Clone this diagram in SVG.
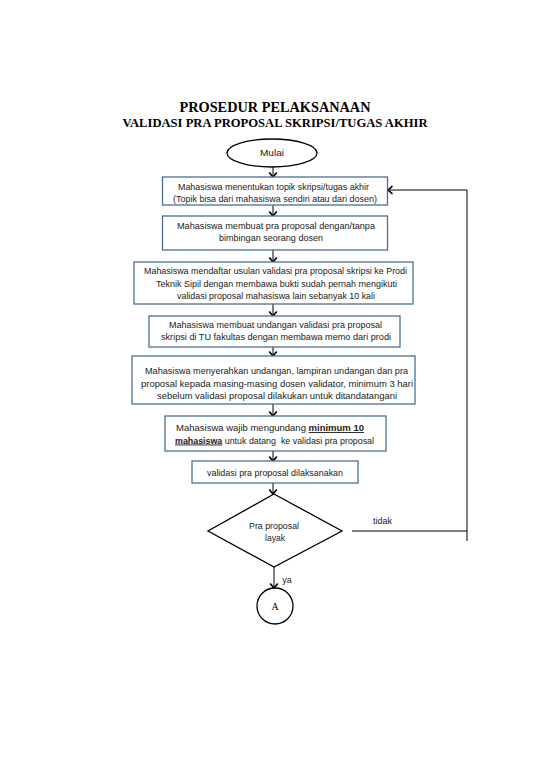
<svg xmlns="http://www.w3.org/2000/svg" width="550" height="777" viewBox="0 0 550 777">
<style>
  .title { font-family: "Liberation Serif", "Times New Roman", serif; font-weight: bold; fill: #000; }
  .box { fill: #ffffff; stroke: #4a6f96; stroke-width: 1.3; }
  .shape { fill: #ffffff; stroke: #000; stroke-width: 1.3; }
  .t { font-family: "Liberation Sans", Arial, sans-serif; font-size: 9px; fill: #1a1a1a; text-anchor: middle; }
  .conn { fill: none; stroke: #000; stroke-width: 1; }
  .a { font-family: "Liberation Serif", "Times New Roman", serif; font-size: 10px; fill: #000; text-anchor: middle; }
</style>
<defs>
  <marker id="arr" markerUnits="userSpaceOnUse" markerWidth="10" markerHeight="10" viewBox="-6 -5 10 10" refX="0" refY="0" orient="auto">
    <path d="M-4.5,-3.8 L0,0 L-4.5,3.8" fill="none" stroke="#000" stroke-width="1.6"/>
  </marker>
</defs>
<rect width="550" height="777" fill="#ffffff"/>

<g id="title">
  <text class="title" x="275" y="111.5" font-size="14.3" text-anchor="middle" textLength="191" lengthAdjust="spacingAndGlyphs">PROSEDUR PELAKSANAAN</text>
  <text class="title" x="275" y="126.5" font-size="12.5" text-anchor="middle" textLength="305" lengthAdjust="spacingAndGlyphs">VALIDASI PRA PROPOSAL SKRIPSI/TUGAS AKHIR</text>
</g>

<g id="connectors">
  <line class="conn" x1="273" y1="167" x2="273" y2="177" marker-end="url(#arr)"/>
  <line class="conn" x1="273" y1="205" x2="273" y2="216" marker-end="url(#arr)"/>
  <line class="conn" x1="273" y1="250" x2="273" y2="262" marker-end="url(#arr)"/>
  <line class="conn" x1="273" y1="304" x2="273" y2="316" marker-end="url(#arr)"/>
  <line class="conn" x1="273" y1="347" x2="273" y2="356" marker-end="url(#arr)"/>
  <line class="conn" x1="273" y1="404" x2="273" y2="416" marker-end="url(#arr)"/>
  <line class="conn" x1="273" y1="451" x2="273" y2="461" marker-end="url(#arr)"/>
  <line class="conn" x1="273" y1="483" x2="273" y2="494" marker-end="url(#arr)"/>
  <line class="conn" x1="274" y1="567" x2="274" y2="588" marker-end="url(#arr)"/>
  <line class="conn" x1="352" y1="531" x2="467" y2="531"/>
  <polyline class="conn" points="467,541 467,190 388,190" marker-end="url(#arr)"/>
  <text class="t" x="382.5" y="524">tidak</text>
  <text class="t" x="287" y="583">ya</text>
</g>

<g id="mulai">
  <ellipse class="shape" cx="272" cy="153" rx="45" ry="14"/>
  <text class="t" x="272" y="156" textLength="24" lengthAdjust="spacingAndGlyphs">Mulai</text>
</g>

<g id="step1">
  <rect class="box" x="162.5" y="177" width="225" height="28"/>
  <text class="t" x="273.5" y="190" textLength="191" lengthAdjust="spacingAndGlyphs">Mahasiswa menentukan topik skripsi/tugas akhir</text>
  <text class="t" x="275" y="201.5" textLength="204" lengthAdjust="spacingAndGlyphs">(Topik bisa dari mahasiswa sendiri atau dari dosen)</text>
</g>

<g id="step2">
  <rect class="box" x="162.5" y="216" width="225" height="34"/>
  <text class="t" x="276" y="229" textLength="198" lengthAdjust="spacingAndGlyphs">Mahasiswa membuat pra proposal dengan/tanpa</text>
  <text class="t" x="271" y="241" textLength="104" lengthAdjust="spacingAndGlyphs">bimbingan seorang dosen</text>
</g>

<g id="step3">
  <rect class="box" x="134" y="262" width="279" height="42"/>
  <text class="t" x="275.5" y="274" textLength="263" lengthAdjust="spacingAndGlyphs">Mahasiswa mendaftar usulan validasi pra proposal skripsi ke Prodi</text>
  <text class="t" x="276.5" y="286.5" textLength="241" lengthAdjust="spacingAndGlyphs">Teknik Sipil dengan membawa bukti sudah pernah mengikuti</text>
  <text class="t" x="276" y="299" textLength="198" lengthAdjust="spacingAndGlyphs">validasi proposal mahasiswa lain sebanyak 10 kali</text>
</g>

<g id="step4">
  <rect class="box" x="149" y="316" width="251" height="31"/>
  <text class="t" x="275.5" y="327.5" textLength="213" lengthAdjust="spacingAndGlyphs">Mahasiswa membuat undangan validasi pra proposal</text>
  <text class="t" x="276" y="339.5" textLength="230" lengthAdjust="spacingAndGlyphs">skripsi di TU fakultas dengan membawa memo dari prodi</text>
</g>

<g id="step5">
  <rect class="box" x="132" y="356" width="283" height="48"/>
  <text class="t" x="276.5" y="374" textLength="263" lengthAdjust="spacingAndGlyphs">Mahasiswa menyerahkan undangan, lampiran undangan dan pra</text>
  <text class="t" x="277" y="386.5" textLength="272" lengthAdjust="spacingAndGlyphs">proposal kepada masing-masing dosen validator, minimum 3 hari</text>
  <text class="t" x="277" y="399" textLength="240" lengthAdjust="spacingAndGlyphs">sebelum validasi proposal dilakukan untuk ditandatangani</text>
</g>

<g id="step6">
  <rect class="box" x="165" y="416" width="221" height="35"/>
  <text class="t" x="270" y="431" textLength="188" lengthAdjust="spacingAndGlyphs">Mahasiswa wajib mengundang <tspan font-weight="bold" text-decoration="underline">minimum 10</tspan></text>
  <text class="t" x="274.5" y="443.5" textLength="199" lengthAdjust="spacingAndGlyphs" xml:space="preserve"><tspan font-weight="bold" text-decoration="underline">mahasiswa</tspan> untuk datang  ke validasi pra proposal</text>
</g>

<g id="step7">
  <rect class="box" x="192" y="461" width="166" height="22"/>
  <text class="t" x="275" y="476" textLength="136" lengthAdjust="spacingAndGlyphs">validasi pra proposal dilaksanakan</text>
</g>

<g id="decision">
  <polygon class="shape" points="274,494 342,531 274,567 208,531"/>
  <text class="t" x="274" y="529" textLength="50" lengthAdjust="spacingAndGlyphs">Pra proposal</text>
  <text class="t" x="275" y="540.5" textLength="20" lengthAdjust="spacingAndGlyphs">layak</text>
</g>

<g id="connector-a">
  <circle class="shape" cx="275" cy="606" r="18"/>
  <text class="a" x="275" y="609.5">A</text>
</g>
</svg>
